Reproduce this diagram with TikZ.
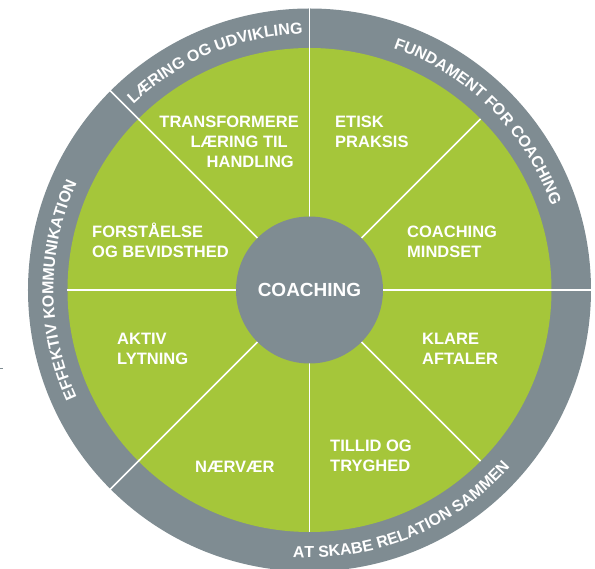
\documentclass[tikz,border=0pt]{standalone}
\usepackage{fontspec}
\setmainfont{Liberation Sans}
\usetikzlibrary{decorations.text}
\definecolor{ringgray}{RGB}{127,140,146}
\definecolor{leafgreen}{RGB}{165,198,58}
\newcommand\ringfont{\bfseries\fontsize{16}{19}\selectfont}
\begin{document}
\begin{tikzpicture}[x=1pt,y=1pt,
  divider/.style={white, line width=1.6pt},
  seglabel/.style={text=white, font=\bfseries\fontsize{16.5}{20}\selectfont, inner sep=0pt, anchor=base west},
  ringlabel/.style={decorate, decoration={text along path, text align=center,
     text={|\color{white}\ringfont|#1}}}
]
\useasboundingbox (-309.5,-279) rectangle (285.5,290);
% wheel
\fill[ringgray] (0,0) circle[radius=281.5];
\fill[leafgreen] (0,0) circle[radius=242];
\foreach \a in {0,45,...,315} \draw[divider] (0,0) -- (\a:242);
\foreach \a in {0,90,135,225} \draw[divider] (\a:240) -- (\a:283);
\node[circle, fill=ringgray, minimum size=147pt, inner sep=0pt, text=white,
      font=\bfseries\fontsize{19}{22}\selectfont] (core) at (0,0) {COACHING};
% ring labels
\begin{scope}
\ringfont
\path[ringlabel={LÆRING OG UDVIKLING}] (135:256) arc[start angle=135, end angle=90, radius=256];
\path[ringlabel={FUNDAMENT FOR COACHING}] (90:256) arc[start angle=90, end angle=0, radius=256];
\path[ringlabel={EFFEKTIV KOMMUNIKATION}] (225:256) arc[start angle=225, end angle=135, radius=256];
\path[ringlabel={AT SKABE RELATION SAMMEN}] (225:267.5) arc[start angle=225, end angle=360, radius=267.5];
\end{scope}
% segment labels
\node[seglabel] (etisk) at (25.5,162) {\begin{tabular}[t]{@{}l@{}}ETISK\\PRAKSIS\end{tabular}};
\node[seglabel, anchor=base east] (transf) at (-10.5,162) {\begin{tabular}[t]{@{}r@{}}TRANSFORMERE\\LÆRING TIL\hspace*{11pt}\\HANDLING\hspace*{5pt}\end{tabular}};
\node[seglabel] (forst) at (-217.5,52) {\begin{tabular}[t]{@{}l@{}}FORSTÅELSE\\OG BEVIDSTHED\end{tabular}};
\node[seglabel] (mind) at (97.5,52) {\begin{tabular}[t]{@{}l@{}}COACHING\\MINDSET\end{tabular}};
\node[seglabel] (aktiv) at (-192.5,-55) {\begin{tabular}[t]{@{}l@{}}AKTIV\\LYTNING\end{tabular}};
\node[seglabel] (klare) at (112.5,-55) {\begin{tabular}[t]{@{}l@{}}KLARE\\AFTALER\end{tabular}};
\node[seglabel] (naer) at (-114.5,-183) {NÆRVÆR};
\node[seglabel] (tillid) at (20.5,-162) {\begin{tabular}[t]{@{}l@{}}TILLID OG\\TRYGHED\end{tabular}};
% small stray mark at left edge
\draw[ringgray, line width=1pt] (-309.5,-79) -- (-306,-79);
\end{tikzpicture}
\end{document}
